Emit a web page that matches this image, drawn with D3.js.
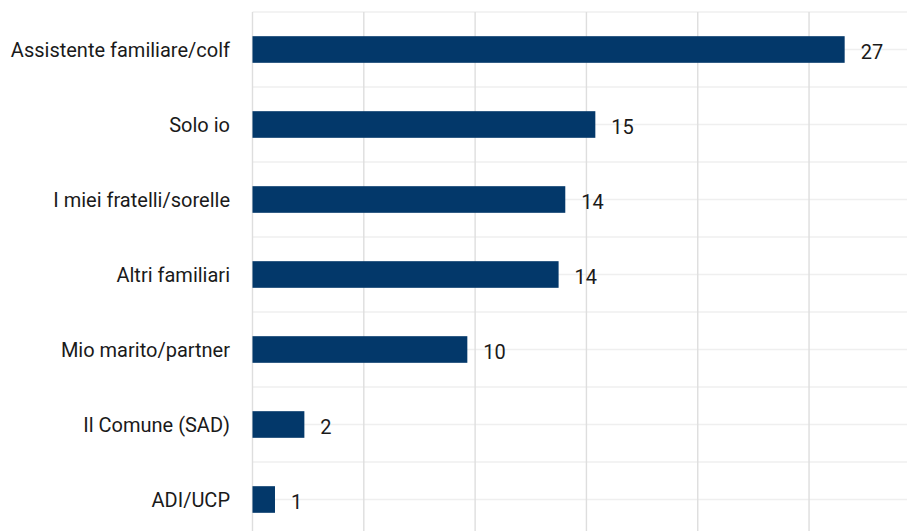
<!DOCTYPE html>
<html>
<head>
<meta charset="utf-8">
<script src="https://cdn.jsdelivr.net/npm/d3@7"></script>
<style>
  html, body { margin: 0; padding: 0; background: #ffffff; }
  svg { display: block; }
</style>
</head>
<body>
<svg id="chart" width="907" height="531"></svg>
<script>
const categories = [
  "Assistente familiare/colf",
  "Solo io",
  "I miei fratelli/sorelle",
  "Altri familiari",
  "Mio marito/partner",
  "Il Comune (SAD)",
  "ADI/UCP"
];
const values = [26.6, 15.4, 14.05, 13.75, 9.65, 2.33, 1.01];
const valueLabels = ["27", "15", "14", "14", "10", "2", "1"];
const xTicks = [0, 5, 10, 15, 20, 25];

const W = 907, H = 531;
const svg = d3.select("#chart");
const fontFamily = "Roboto, 'Noto Sans', sans-serif";

const x = d3.scaleLinear().domain([0, 29.4]).range([252.5, 907]);
const y = d3.scaleBand().domain(categories).range([12, 537]).padding(0);
const barH = y.bandwidth() * 0.355;

// horizontal grid lines (centres and boundaries)
const hLines = [];
categories.forEach(c => {
  hLines.push(y(c));
  hLines.push(y(c) + y.bandwidth() / 2);
});
hLines.push(y.range()[1]);
svg.append("g").selectAll("line").data(hLines).join("line")
  .attr("x1", x(0)).attr("x2", W)
  .attr("y1", d => d).attr("y2", d => d)
  .attr("stroke", "#efefef").attr("stroke-width", 1.3);

// vertical grid lines
svg.append("g").selectAll("line").data(xTicks).join("line")
  .attr("x1", d => x(d)).attr("x2", d => x(d))
  .attr("y1", 12).attr("y2", H)
  .attr("stroke", "#dedede").attr("stroke-width", 1.4);

// bars
svg.append("g").selectAll("rect").data(categories).join("rect")
  .attr("x", x(0))
  .attr("y", (c) => y(c) + y.bandwidth() / 2 - barH / 2)
  .attr("width", (c, i) => x(values[i]) - x(0))
  .attr("height", barH)
  .attr("fill", "#03386a");

// value labels
svg.append("g").selectAll("text").data(categories).join("text")
  .attr("x", (c, i) => x(values[i]) + 16)
  .attr("y", (c) => y(c) + y.bandwidth() / 2 + 2)
  .attr("dominant-baseline", "central")
  .attr("font-family", fontFamily)
  .attr("font-size", 20)
  .attr("fill", "#1a1a1a")
  .text((c, i) => valueLabels[i]);

// category labels
svg.append("g").selectAll("text").data(categories).join("text")
  .attr("x", 230)
  .attr("y", (c) => y(c) + y.bandwidth() / 2)
  .attr("text-anchor", "end")
  .attr("dominant-baseline", "central")
  .attr("font-family", fontFamily)
  .attr("font-size", 20)
  .attr("fill", "#1a1a1a")
  .text(c => c);
</script>
</body>
</html>
